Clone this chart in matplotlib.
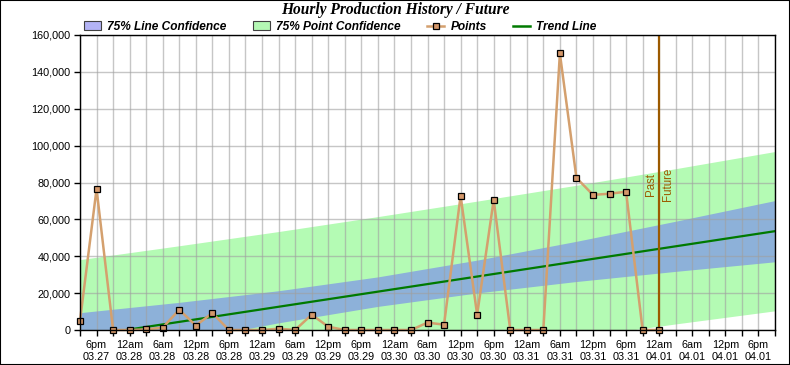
import numpy as np
import matplotlib.pyplot as plt
from matplotlib.patches import Patch, Rectangle
from matplotlib.lines import Line2D
from matplotlib.ticker import FuncFormatter

plt.rcParams['font.family'] = ['Liberation Sans', 'DejaVu Sans']

# Production per 3 hour slot, first slot is 3pm 03.27
points = [5000, 76500, 0, 0, 300, 1300, 11000, 2400, 9200, 0, 0, 0,
          700, 0, 8300, 1800, 0, 0, 0, 0, 0, 4000, 2900, 72800,
          8300, 70600, 0, 0, 0, 150000, 82500, 73300, 73900, 75000, 0, 0]

band_idx = [0, 6, 12, 18, 24, 30, 36, 42]
line_conf_upper = [9400, 15000, 21300, 28800, 37900, 48100, 59000, 70200]
line_conf_lower = [-17000, -6200, 3900, 12800, 20100, 26300, 31800, 37000]
point_conf_upper = [38200, 45700, 53400, 61500, 69900, 78500, 87500, 96800]
point_conf_lower = [-45800, -36900, -28200, -19900, -11900, -4100, 3300, 10400]
trend_idx = [0, 42]
trend_vals = [-3800, 53600]

# Labels at every other slot (6 hours)
tick_labels = ["6pm\n03.27", "12am\n03.28", "6am\n03.28", "12pm\n03.28", "6pm\n03.28",
               "12am\n03.29", "6am\n03.29", "12pm\n03.29", "6pm\n03.29",
               "12am\n03.30", "6am\n03.30", "12pm\n03.30", "6pm\n03.30",
               "12am\n03.31", "6am\n03.31", "12pm\n03.31", "6pm\n03.31",
               "12am\n04.01", "6am\n04.01", "12pm\n04.01", "6pm\n04.01"]
now_idx = 35  # 12am 04.01

brown = '#9c5a00'
tan = '#d4a06e'

fig = plt.figure(figsize=(7.9, 3.65), dpi=100)
ax = fig.add_axes([80/790, 35/365, 695/790, 295/365])

# bands
ax.fill_between(band_idx, point_conf_lower, point_conf_upper, color='#b4fbb4', lw=0, zorder=1)
ax.fill_between(band_idx, line_conf_lower, line_conf_upper, color='#8db1d9', lw=0, zorder=1.2)

# trend and points
ax.plot(trend_idx, trend_vals, color='#007a00', lw=1.6, zorder=3)
ax.plot(np.arange(len(points)), points, color=tan, lw=1.8, marker='s', ms=4.5,
        mfc='#d4976a', mec='black', mew=0.9, zorder=5, clip_on=False)

# past / future marker
ax.axvline(now_idx, color=brown, lw=1.6, zorder=4)
ax.text(now_idx - 0.15, 79000, 'Past', rotation=90, ha='right', va='center', color=brown, fontsize=8.3)
ax.text(now_idx + 0.2, 79000, 'Future', rotation=90, ha='left', va='center', color=brown, fontsize=8.3)

ax.set_xlim(0, 42)
ax.set_ylim(0, 160000)
ax.set_xticks(np.arange(1, 42, 2))
ax.set_xticklabels(tick_labels, linespacing=1.25)
ax.set_xticks(np.arange(0, 43, 2), minor=True)
ax.set_yticks(np.arange(0, 160001, 20000))
ax.yaxis.set_major_formatter(FuncFormatter(lambda v, p: f"{v:,.0f}"))
ax.tick_params(which='both', direction='out', length=4, width=1, labelsize=7.8, pad=3, colors='black')
ax.grid(True, which='both', color='#a0a0a0', alpha=0.6, lw=1, zorder=2)
ax.set_axisbelow(False)
for s in ax.spines.values():
    s.set_color('black')
    s.set_linewidth(1)
    s.set_zorder(6)

# legend on top
handles = [Patch(facecolor='#b3b3f5', edgecolor='#404040', lw=0.8),
           Patch(facecolor='#b4f8b4', edgecolor='#404040', lw=0.8),
           Line2D([], [], color=tan, lw=1.8, marker='s', ms=4.5, mfc='#d4976a', mec='black', mew=0.9),
           Line2D([], [], color='#007a00', lw=1.8)]
labels = ['75% Line Confidence', '75% Point Confidence', 'Points', 'Trend Line']
fig.legend(handles, labels, ncol=4, loc='upper left', bbox_to_anchor=(84/790, 1 - 21/365),
           frameon=False, prop={'weight': 'bold', 'style': 'italic', 'size': 8.6},
           handlelength=1.45, handleheight=0.75, handletextpad=0.5, columnspacing=2.2,
           borderaxespad=0, borderpad=0)

fig.text(0.5, 1 - 10/365, 'Hourly Production History / Future', ha='center', va='center',
         fontfamily='Liberation Serif', fontweight='bold', fontstyle='italic', fontsize=11.2)

fig.patches.append(Rectangle((0, 0), 1, 1, transform=fig.transFigure, fill=False, ec='black', lw=1.5))

fig.savefig('out.png', dpi=100)
